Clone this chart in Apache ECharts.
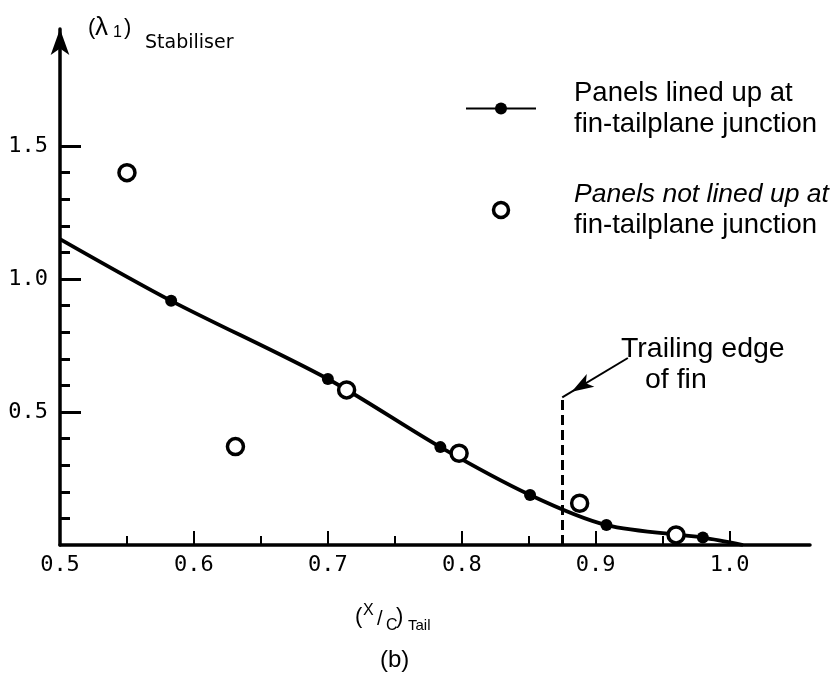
<!DOCTYPE html>
<html><head><meta charset="utf-8">
<script src="https://cdn.jsdelivr.net/npm/echarts@6/dist/echarts.min.js"></script>
<style>html,body{margin:0;padding:0;background:#fff}#c{width:833px;height:679px}</style>
</head><body><div id="c"></div>
<script>
// ---- data ----
const fitX = [0.500, 0.583, 0.700, 0.784, 0.851, 0.908, 0.980, 1.010];
const fitY = [1.150, 0.918, 0.624, 0.368, 0.188, 0.075, 0.028, 0.000];
const notLinedX = [0.550, 0.631, 0.714, 0.798, 0.888, 0.960];
const notLinedY = [1.400, 0.370, 0.583, 0.345, 0.157, 0.038];
const xMajorTicks = [0.5, 0.6, 0.7, 0.8, 0.9, 1.0];
const xMinorTicks = [0.55, 0.65, 0.75, 0.85, 0.95];
const yMajorTicks = [0.5, 1.0, 1.5];
const yMinorTicks = [0.1, 0.2, 0.3, 0.4, 0.6, 0.7, 0.8, 0.9, 1.1, 1.2, 1.3, 1.4];
const finEdgeX = 0.875;
const finEdgeTop = 0.555;
const arrowFrom = [0.924, 0.703];
const linedName = 'Panels lined up at\nfin-tailplane junction';
const notLinedName = 'Panels not lined up at\nfin-tailplane junction';

const X_MIN = 0.5, X_MAX = 1.06, Y_MIN = 0, Y_MAX = 1.94;
const lastIdx = fitX.length - 1;
const SANS = '"Liberation Sans", Arial, sans-serif';
const MONO = '"DejaVu Sans Mono", monospace';

function txt(text, x, y, size, family, extra) {
  return Object.assign({ type: 'text', x: x, y: y, silent: true,
    style: Object.assign({ text: text, fontSize: size, fontFamily: family || SANS, fill: '#000',
      align: 'left', verticalAlign: 'middle' }, extra || {}) });
}

const chart = echarts.init(document.getElementById('c'), null, { renderer: 'canvas' });
chart.setOption({
  animation: false,
  backgroundColor: '#fff',
  grid: { left: 60, right: 23, top: 29, bottom: 134, containLabel: false, outerBoundsMode: 'none' },
  xAxis: [
    { type: 'value', min: X_MIN, max: X_MAX, position: 'bottom',
      axisLine: { show: true, onZero: false, lineStyle: { color: '#000', width: 3.5 } },
      axisTick: { show: true, inside: true, length: 14, customValues: xMajorTicks, lineStyle: { color: '#000', width: 2 } },
      axisLabel: { show: true, customValues: xMajorTicks, formatter: v => Number(v).toFixed(1),
        fontFamily: MONO, fontSize: 22, color: '#000', margin: 9 },
      splitLine: { show: false } },
    { type: 'value', min: X_MIN, max: X_MAX, position: 'bottom', offset: 0,
      axisLine: { show: false, onZero: false },
      axisTick: { show: true, inside: true, length: 9, customValues: xMinorTicks, lineStyle: { color: '#000', width: 2 } },
      axisLabel: { show: false }, splitLine: { show: false } }
  ],
  yAxis: [
    { type: 'value', min: Y_MIN, max: Y_MAX, position: 'left',
      axisLine: { show: true, onZero: false, symbol: ['none', 'arrow'], symbolSize: [14, 26],
        lineStyle: { color: '#000', width: 3.5 } },
      axisTick: { show: true, inside: true, length: 21, customValues: yMajorTicks, lineStyle: { color: '#000', width: 3 } },
      axisLabel: { show: true, customValues: yMajorTicks, formatter: v => Number(v).toFixed(1),
        fontFamily: MONO, fontSize: 22, color: '#000', margin: 12 },
      splitLine: { show: false } },
    { type: 'value', min: Y_MIN, max: Y_MAX, position: 'left', offset: 0,
      axisLine: { show: false, onZero: false },
      axisTick: { show: true, inside: true, length: 10, customValues: yMinorTicks, lineStyle: { color: '#000', width: 3 } },
      axisLabel: { show: false }, splitLine: { show: false } }
  ],
  legend: {
    orient: 'vertical', left: 460, top: 74, itemWidth: 70, itemHeight: 15, itemGap: 43,
    selectedMode: false,
    data: [ { name: linedName },
            { name: notLinedName, itemStyle: { color: '#fff', borderColor: '#000', borderWidth: 3.5, opacity: 1 } } ],
    formatter: function (name) {
      const parts = name.split('\n');
      return name === notLinedName ? '{i|' + parts[0] + '}\n{n|' + parts[1] + '}'
                                   : '{n|' + parts[0] + '}\n{n|' + parts[1] + '}';
    },
    textStyle: { padding: [0, 0, 0, 33], color: '#000',
      rich: {
        n: { fontSize: 27.5, lineHeight: 31, fontFamily: SANS, color: '#000' },
        i: { fontSize: 26.5, lineHeight: 31, fontFamily: SANS, color: '#000', fontStyle: 'italic' }
      } }
  },
  series: [
    { name: linedName, type: 'line', xAxisIndex: 0, yAxisIndex: 0,
      data: fitX.map((x, i) => [x, fitY[i]]),
      smooth: 0.3,
      symbol: 'circle',
      symbolSize: (v, p) => (p.dataIndex === 0 || p.dataIndex === lastIdx) ? 0 : 12,
      showSymbol: true, showAllSymbol: true,
      lineStyle: { color: '#000', width: 3.8 }, itemStyle: { color: '#000', opacity: 1 },
      z: 3,
      markLine: { silent: true, animation: false, symbol: ['none', 'none'], label: { show: false },
        data: [
          [ { coord: [finEdgeX, 0], lineStyle: { color: '#000', type: [10, 5], width: 3 } },
            { coord: [finEdgeX, finEdgeTop] } ],
          [ { coord: arrowFrom, symbol: 'none', lineStyle: { color: '#000', type: 'solid', width: 2 } },
            { coord: [finEdgeX, finEdgeTop], symbol: 'arrow', symbolSize: [11, 22], symbolOffset: [0, 11] } ]
        ] } },
    { name: notLinedName, type: 'scatter', xAxisIndex: 0, yAxisIndex: 0,
      data: notLinedX.map((x, i) => [x, notLinedY[i]]),
      symbol: 'circle', symbolSize: 16,
      itemStyle: { color: '#fff', borderColor: '#000', borderWidth: 3.5, opacity: 1 },
      z: 4 }
  ],
  graphic: [
    // y-axis title (λ1) Stabiliser
    txt('(', 88, 28, 22),
    txt('λ', 95, 28, 26),
    txt('1', 113, 33, 16),
    txt(')', 124, 28, 22),
    txt('Stabiliser', 145, 43, 19, '"DejaVu Sans", sans-serif'),
    // x-axis title (X/C) Tail
    txt('(', 355, 617, 22),
    txt('X', 363, 611, 16),
    txt('/', 377, 619, 20),
    txt('C', 386, 626, 16),
    txt(')', 396, 617, 22),
    txt('Tail', 408, 626, 15),
    txt('(b)', 380, 660, 24),
    // annotation
    txt('Trailing edge', 621, 349, 28.5),
    txt('of fin', 645, 380, 28.5)
  ]
});
</script>
</body></html>
